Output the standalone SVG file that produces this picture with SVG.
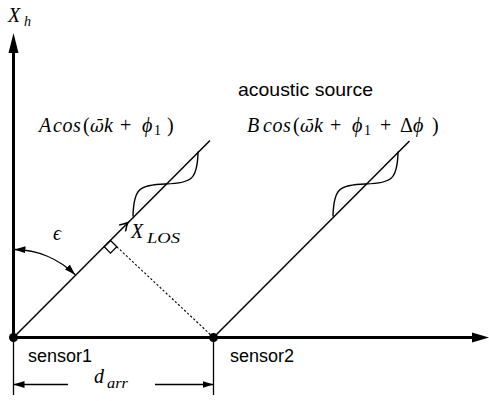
<svg xmlns="http://www.w3.org/2000/svg" width="489" height="401" viewBox="0 0 489 401">
<style>
.axis{stroke:#000;stroke-width:3;fill:none}
.thin{stroke:#000;stroke-width:1.3;fill:none}
.ray{stroke:#000;stroke-width:1.5;fill:none}
.dot{stroke:#000;stroke-width:1.1;fill:none;stroke-dasharray:2.2 2}
.math{font-family:"Liberation Serif","Times New Roman",serif;font-size:20px;fill:#000}
.it{font-style:italic}
.om{font-family:"DejaVu Serif",serif;font-size:17px;font-style:italic}
.sub{font-size:14px}
.sans{font-family:"Liberation Sans",Arial,sans-serif;font-size:18px;fill:#000}
</style>
<defs>
<marker id="ah" markerUnits="userSpaceOnUse" markerWidth="12" markerHeight="8" refX="11" refY="4" orient="auto-start-reverse">
<path d="M0,0.5 L11,4 L0,7.5 z" fill="#000"/>
</marker>
<path id="wave" d="M0,0 C19.5,-18.7 26.5,-18.7 46,0 C65.5,18.7 72.5,18.7 92,0"/>
</defs>

<g id="connectors">
<line class="axis" x1="13.5" y1="337.5" x2="13.5" y2="50"/>
<polygon points="13.5,33 8.5,53 18.5,53" fill="#000"/>
<line class="axis" x1="13.5" y1="337.5" x2="474" y2="337.5"/>
<polygon points="489,337.5 472,332.5 472,342.5" fill="#000"/>

<line class="ray" x1="13.5" y1="337.5" x2="210" y2="140.5"/>
<line class="ray" x1="213.5" y1="337.5" x2="409.5" y2="141"/>

<g transform="translate(133,216.5) rotate(-45)"><use href="#wave" class="ray" style="stroke-width:1.4"/></g>
<g transform="translate(333,216.5) rotate(-45)"><use href="#wave" class="ray" style="stroke-width:1.4"/></g>

<g transform="translate(128,222.5) rotate(-45)"><path class="ray" d="M-8,-4.5 Q-3,-1 0,0 Q-3,1 -8,4.5"/></g>

<path class="thin" d="M110.5,240.5 L104.2,246.8 L110.5,253.1 L116.8,246.8 Z"/>
<line class="dot" x1="116.8" y1="246.8" x2="213.5" y2="337.5"/>

<path class="thin" d="M14.5,249.5 A88,88 0 0,1 75.2,274.8" marker-start="url(#ah)" marker-end="url(#ah)"/>

<line class="thin" x1="13.5" y1="337.5" x2="13.5" y2="395"/>
<line class="thin" x1="213.5" y1="337.5" x2="213.5" y2="395"/>
<line class="thin" x1="68" y1="384.5" x2="13.5" y2="384.5" marker-end="url(#ah)"/>
<line class="thin" x1="155" y1="384.5" x2="213.5" y2="384.5" marker-end="url(#ah)"/>
</g>

<g id="sensor1"><circle cx="13.5" cy="337.5" r="4.5" fill="#000"/><text class="sans" x="28" y="362">sensor1</text></g>
<g id="sensor2"><circle cx="213.5" cy="337.5" r="4.5" fill="#000"/><text class="sans" x="230" y="362">sensor2</text></g>

<g id="label-xh"><text class="math it" x="8" y="22">X</text><text class="math it sub" x="24" y="26">h</text></g>
<g id="label-source"><text class="sans" x="238" y="96" textLength="135" lengthAdjust="spacingAndGlyphs" style="font-size:19px">acoustic source</text></g>

<g id="label-a"><text class="math">
<tspan class="it" x="39" y="132">A</tspan><tspan class="it" x="53" style="letter-spacing:0.6px">cos</tspan><tspan x="83">(</tspan><tspan class="om" x="90">ω̄</tspan><tspan class="it" x="104">k</tspan><tspan x="120">+</tspan><tspan class="it" x="142">ϕ</tspan><tspan class="sub" x="154" y="135">1</tspan><tspan x="167" y="132">)</tspan>
</text></g>

<g id="label-b"><text class="math">
<tspan class="it" x="247" y="132">B</tspan><tspan class="it" x="263" style="letter-spacing:0.6px">cos</tspan><tspan x="293">(</tspan><tspan class="om" x="300">ω̄</tspan><tspan class="it" x="314">k</tspan><tspan x="330">+</tspan><tspan class="it" x="352">ϕ</tspan><tspan class="sub" x="364" y="135">1</tspan><tspan x="380" y="132">+</tspan><tspan x="400">Δ</tspan><tspan class="it" x="413">ϕ</tspan><tspan x="432">)</tspan>
</text></g>

<g id="label-xlos"><text class="math it" x="131" y="238">X</text><text class="math it" x="147" y="243" style="font-size:15px" textLength="33" lengthAdjust="spacingAndGlyphs">LOS</text></g>
<g id="label-eps"><text class="math it" x="53" y="240">ϵ</text></g>
<g id="label-darr"><text class="math it" x="94" y="383">d</text><text class="math it sub" x="107" y="388" textLength="21" lengthAdjust="spacingAndGlyphs">arr</text></g>
</svg>
